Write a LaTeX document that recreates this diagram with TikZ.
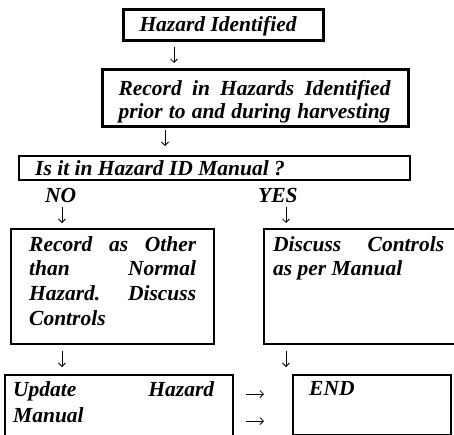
\documentclass[tikz,border=0pt]{standalone}
\usepackage{fontspec}
\setmainfont{Liberation Serif}
\usetikzlibrary{arrows.meta}
\newdimen\bpad
\newcommand\jline[2]{\moveright\bpad\hbox{\smash{\makebox[#1][s]{#2}}}}
\newcommand\pline[1]{\moveright\bpad\hbox{\smash{#1}}}
% #1 width, #2 height, #3 left pad, #4 first baseline, #5 lines
\newcommand\bxt[5]{\vbox to #2{\offinterlineskip\bpad=#3\relax\kern#4\relax #5\hbox to #1{\hfil}\vfil}}
\tikzset{
  bx/.style={draw, line width=2.4pt, inner sep=0pt, anchor=north west},
  lbl/.style={inner sep=0pt, anchor=base west},
  arr/.style={line width=0.8pt, -{Straight Barb[length=3.5pt,width=7pt,line width=0.8pt]}},
  every node/.style={font=\fontsize{21.5}{24}\selectfont\bfseries\itshape}
}
\begin{document}
\begin{tikzpicture}[x=1pt,y=-1pt]
\useasboundingbox (0,0) rectangle (454,434);
\fill[white] (0,0) rectangle (454,434);
\clip (0,0) rectangle (454,434);

\node[bx, line width=3pt] (b1) at (122,8) {\bxt{200pt}{31pt}{16pt}{22pt}{\pline{Hazard Identified}}};
\node[bx, line width=3pt] (b2) at (101,68) {\bxt{306pt}{57pt}{16pt}{26pt}{%
  \jline{272pt}{Record in Hazards Identified}\kern23pt
  \jline{272pt}{prior to and during harvesting}}};
\node[bx] (b3) at (18,155) {\bxt{391pt}{24pt}{16pt}{19pt}{\pline{Is it in Hazard ID Manual ?}}};
\node[lbl] (no) at (45,202) {NO};
\node[lbl] (yes) at (258,202) {YES};
\node[bx] (b4l) at (10,228) {\bxt{203pt}{115pt}{18pt}{22pt}{%
  \jline{167pt}{Record as Other}\kern24.7pt
  \jline{167pt}{than Normal}\kern24.7pt
  \jline{167pt}{Hazard. Discuss}\kern24.7pt
  \pline{Controls}}};
\node[bx] (b4r) at (263,228) {\bxt{197pt}{115pt}{9pt}{22pt}{%
  \jline{171pt}{Discuss Controls}\kern24.7pt
  \pline{as per Manual}}};
\node[bx] (b5l) at (4,374) {\bxt{228pt}{61pt}{8pt}{21pt}{%
  \jline{201pt}{Update Hazard}\kern26pt
  \pline{Manual}}};
\node[bx] (b5r) at (292,374) {\bxt{158pt}{60pt}{16pt}{20pt}{\pline{END}}};

\coordinate (a1s) at (174,47);  \coordinate (a1e) at (174,63);
\coordinate (a2s) at (165,130); \coordinate (a2e) at (165,146);
\coordinate (a3s) at (62,207);  \coordinate (a3e) at (62,223);
\coordinate (a4s) at (286,207); \coordinate (a4e) at (286,223);
\coordinate (a5s) at (62,351);  \coordinate (a5e) at (62,367);
\coordinate (a6s) at (286,351); \coordinate (a6e) at (286,367);
\coordinate (a7s) at (246,394); \coordinate (a7e) at (264,394);
\coordinate (a8s) at (246,421); \coordinate (a8e) at (264,421);
\foreach \i in {1,...,8} \draw[arr] (a\i s) -- (a\i e);
\end{tikzpicture}
\end{document}
